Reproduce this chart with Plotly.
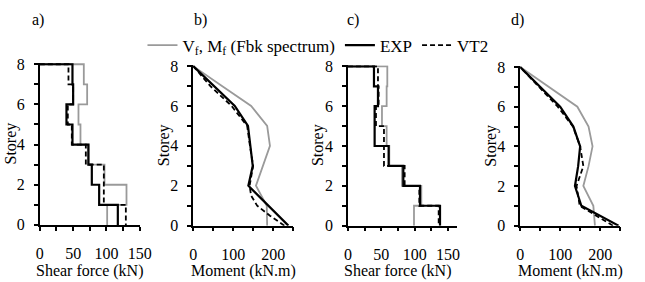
import plotly.graph_objects as go

# ---------------- data ----------------
storey_levels = [0, 1, 2, 3, 4, 5, 6, 7, 8]

# Panel a: shear force per storey segment (0-1, 1-2, ..., 7-8), kN
a_fbk = [101, 130, 97, 72, 61, 58, 71, 66]
a_exp = [117, 89, 78, 73, 49, 40, 50, 49]
a_vt2 = [129, 96, 96, 69, 48, 42, 50, 43]

# Panel b: moment at storey levels 0..8, kN.m
b_fbk = [185, 184, 157, 175, 192, 185, 145, 72, 0]
b_exp = [238, 189, 138, 149, 143, 137, 104, 51, 0]
b_vt2_storey = [0, 0.5, 1, 1.5, 2, 3, 4, 5, 6, 7, 8]
b_vt2 = [228, 192, 160, 145, 141, 150, 142, 135, 96, 43, 0]

# Panel c: shear force per storey segment, kN
c_fbk = [99, 110, 81, 62, 58, 51, 58, 59]
c_exp = [138, 108, 83, 61, 40, 40, 45, 39]
c_vt2 = [136, 107, 85, 54, 54, 42, 46, 45]

# Panel d: moment at storey levels 0..8, kN.m
d_fbk = [187, 183, 158, 171, 181, 171, 143, 72, 0]
d_exp = [246, 153, 137, 145, 150, 133, 100, 49, 0]
d_vt2 = [232, 149, 141, 158, 150, 132, 94, 47, 0]

legend_names = ["V<sub>f</sub>, M<sub>f</sub> (Fbk spectrum)", "EXP", "VT2"]
panel_labels = ["a)", "b)", "c)", "d)"]
x_titles = ["Shear force (kN)", "Moment (kN.m)", "Shear force (kN)", "Moment (kN.m)"]
y_title = "Storey"

# ---------------- styling ----------------
W, H = 645, 282
FONT = "Liberation Serif, Times New Roman, serif"
GRAY = "#9a9a9a"
BLACK = "#000000"


def step(vals):
    xs, ys = [0], [storey_levels[-1]]
    for i in range(len(vals) - 1, -1, -1):
        xs += [vals[i], vals[i]]
        ys += [storey_levels[i + 1], storey_levels[i]]
    return xs, ys


styles = [
    dict(color=GRAY, width=1.8),
    dict(color=BLACK, width=2.2),
    dict(color=BLACK, width=1.8, dash="5px,3px"),
]

fig = go.Figure()


def add(xs, ys, k, axis_i, show):
    xa = "x" if axis_i == 1 else f"x{axis_i}"
    ya = "y" if axis_i == 1 else f"y{axis_i}"
    fig.add_trace(go.Scatter(x=xs, y=ys, mode="lines", line=styles[k],
                             name=legend_names[k], showlegend=show,
                             xaxis=xa, yaxis=ya, hoverinfo="skip"))


for k, vals in enumerate([a_fbk, a_exp, a_vt2]):
    xs, ys = step(vals)
    add(xs, ys, k, 1, True)
add(b_fbk, storey_levels, 0, 2, False)
add(b_exp, storey_levels, 1, 2, False)
add(b_vt2, b_vt2_storey, 2, 2, False)
for k, vals in enumerate([c_fbk, c_exp, c_vt2]):
    xs, ys = step(vals)
    add(xs, ys, k, 3, False)
add(d_fbk, storey_levels, 0, 4, False)
add(d_exp, storey_levels, 1, 4, False)
add(d_vt2, storey_levels, 2, 4, False)

# panel geometry in pixels: (x0, x1, ytop, ybottom), x-range, major/minor dtick,
# x-title centre (px)
panels = [
    (36.7, 139.3, 59.4, 231.0, [0, 150], 50, 25, 88.5),
    (194.0, 296.5, 61.4, 231.8, [0, 250], 100, 50, 245.5),
    (352.7, 464.2, 61.7, 231.8, [0, 163], 50, 25, 404.0),
    (529.3, 631.8, 62.4, 231.8, [0, 250], 100, 50, 580.5),
]

tickfont = dict(family=FONT, size=16, color=BLACK)
layout = {}
annotations = []
for i, (x0, x1, yt, yb, xr, dmaj, dmin, xt) in enumerate(panels, start=1):
    sfx = "" if i == 1 else str(i)
    layout[f"xaxis{sfx}"] = dict(
        domain=[x0 / W, x1 / W], range=xr, anchor=f"y{sfx}",
        showline=True, linecolor=BLACK, linewidth=1.5,
        ticks="outside", ticklen=4, tickwidth=1.5, tickcolor=BLACK,
        tick0=0, dtick=dmaj, showgrid=False, zeroline=False,
        tickfont=tickfont, ticklabelstandoff=9,
        minor=dict(ticks="outside", ticklen=4, tickwidth=1.5,
                   tickcolor=BLACK, dtick=dmin, showgrid=False),
    )
    layout[f"yaxis{sfx}"] = dict(
        domain=[1 - yb / H, 1 - yt / H], range=[0, 8.06], anchor=f"x{sfx}",
        showline=True, linecolor=BLACK, linewidth=1.5,
        ticks="outside", ticklen=4, tickwidth=1.5, tickcolor=BLACK,
        tick0=0, dtick=2, showgrid=False, zeroline=False,
        tickfont=tickfont, ticklabelstandoff=6,
        minor=dict(ticks="outside", ticklen=4, tickwidth=1.5,
                   tickcolor=BLACK, dtick=1, showgrid=False),
    )
    annotations.append(dict(text=x_titles[i - 1], xref="paper", yref="paper",
                            x=xt / W, y=0, yshift=-9,
                            xanchor="center", yanchor="bottom", showarrow=False,
                            font=dict(family=FONT, size=16, color=BLACK)))
    annotations.append(dict(text=y_title, xref="paper", yref="paper",
                            x=(x0 - 30) / W, y=1 - ((yt + yb) / 2) / H,
                            xanchor="center", yanchor="middle", textangle=-90,
                            showarrow=False,
                            font=dict(family=FONT, size=16, color=BLACK)))

for lab, px in zip(panel_labels, [35, 201, 357.5, 526.5]):
    annotations.append(dict(text=lab, xref="paper", yref="paper",
                            x=px / W, y=1 - 13.5 / H, xanchor="center",
                            yanchor="middle", showarrow=False,
                            font=dict(family=FONT, size=16, color=BLACK)))

fig.update_layout(
    width=W, height=H,
    margin=dict(l=0, r=0, t=0, b=0),
    paper_bgcolor="white", plot_bgcolor="white",
    showlegend=True,
    legend=dict(orientation="h", x=142 / W, y=1 - 41 / H,
                xanchor="left", yanchor="middle",
                bgcolor="rgba(0,0,0,0)", borderwidth=0,
                font=dict(family=FONT, size=17, color=BLACK),
                itemclick=False, itemdoubleclick=False),
    annotations=annotations,
    **layout,
)

fig.write_html("out.html")
